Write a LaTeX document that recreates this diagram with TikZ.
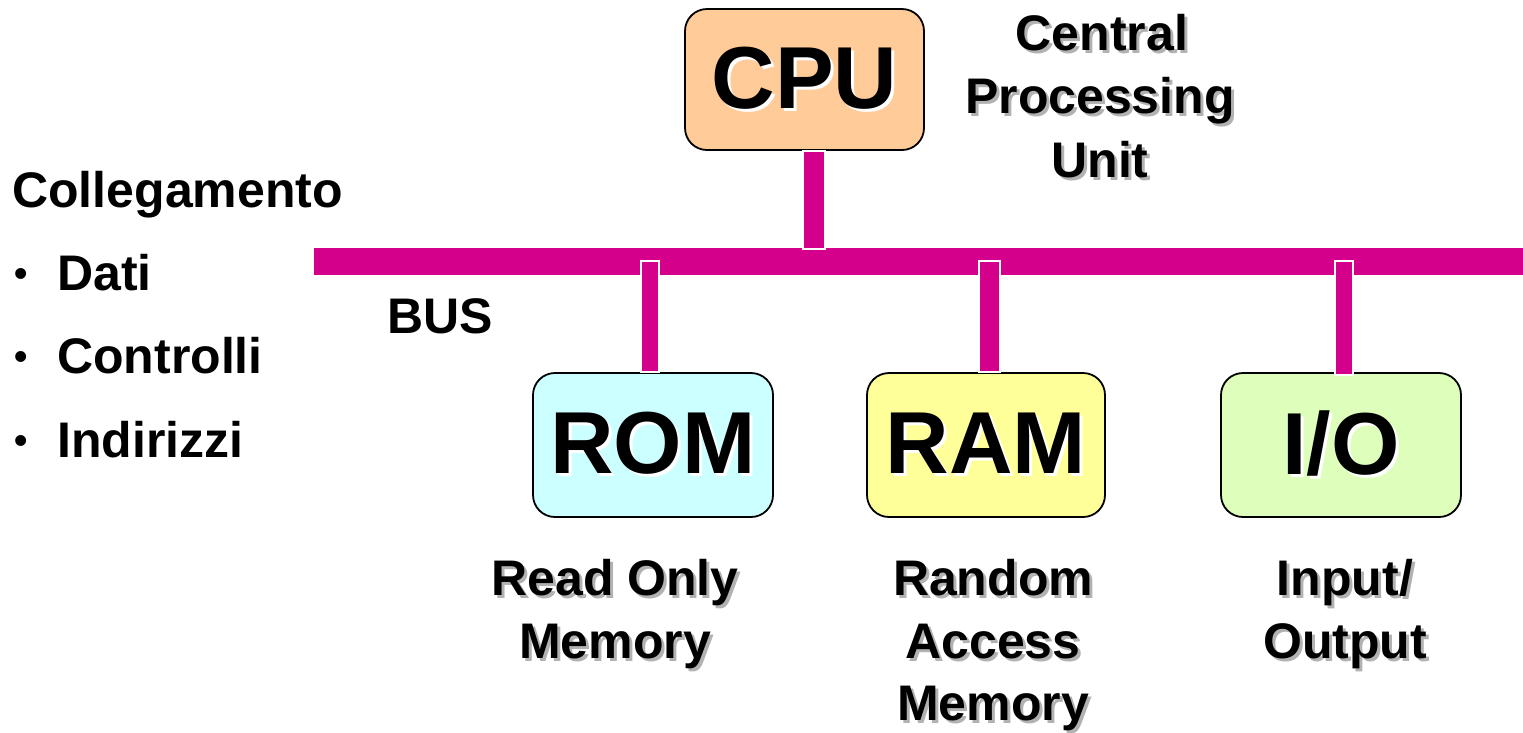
\documentclass[tikz,border=0pt]{standalone}
\usepackage{fontspec}
\setmainfont{Liberation Sans}
\usetikzlibrary{calc}
\definecolor{busmag}{RGB}{212,0,140}
\definecolor{cpufill}{RGB}{255,204,153}
\definecolor{romfill}{RGB}{204,255,255}
\definecolor{ramfill}{RGB}{255,255,153}
\definecolor{iofill}{RGB}{221,255,187}
\newcommand\shd[2]{\makebox[0pt][l]{\hspace*{3pt}\raisebox{-3pt}{\color{#1}#2}}#2}
\begin{document}
\begin{tikzpicture}[x=1pt,y=-1pt,
  unitbox/.style={draw=black,line width=1.8pt,rounded corners=22pt,inner sep=0pt,
    font=\fontsize{88}{90}\selectfont\bfseries},
  lbl/.style={inner sep=0pt,font=\fontsize{50}{60}\selectfont\bfseries},
  bul/.style={inner sep=0pt,font=\fontsize{38}{40}\selectfont\bfseries},
  stubrect/.style={fill=busmag,draw=white,line width=1.5pt}]
\useasboundingbox (0,0) rectangle (1523,732);
% bus
\node[fill=busmag,inner sep=0pt,minimum width=1209pt,minimum height=27pt] (bus) at (918.5,261.5) {};
% units
\node[unitbox,fill=cpufill,minimum width=239pt,minimum height=141pt] (cpu) at (804.5,79.5) {\shd{white}{CPU}};
\node[unitbox,fill=romfill,minimum width=240pt,minimum height=144pt] (rom) at (653,445) {\shd{white}{ROM}};
\node[unitbox,fill=ramfill,minimum width=238pt,minimum height=144pt] (ram) at (986,445) {\shd{white}{RAM}};
\node[unitbox,fill=iofill,minimum width=240pt,minimum height=144pt] (io) at (1341,445) {\shd{white}{I/O}};
% stubs
\path[stubrect] ([xshift=-1.5pt]cpu.south) rectangle ([xshift=20.5pt,yshift=-1pt]cpu.south |- bus.north);
\path[stubrect] ([xshift=-12pt]rom.north) rectangle ([xshift=6pt,yshift=-13pt]rom.north |- bus.north);
\path[stubrect] ([xshift=-7pt]ram.north) rectangle ([xshift=14pt,yshift=-13pt]ram.north |- bus.north);
\path[stubrect] ([xshift=-6pt,yshift=-3pt]io.north) rectangle ([xshift=12pt,yshift=-13pt]io.north |- bus.north);
% left list
\node[lbl,anchor=base west] (coll) at (12,207) {Collegamento};
\node[bul,anchor=base west] (b1) at (14,286) {•};
\node[lbl,anchor=base west] (dati) at (57,290) {Dati};
\node[bul,anchor=base west] (b2) at (14,369) {•};
\node[lbl,anchor=base west] (contr) at (57,373) {Controlli};
\node[bul,anchor=base west] (b3) at (14,453) {•};
\node[lbl,anchor=base west] (indir) at (57,457) {Indirizzi};
\node[lbl,anchor=base west] (buslbl) at (387,333) {BUS};
% CPU description
\node[lbl,anchor=base] (c1) at (1102,50) {\shd{black!30}{Central}};
\node[lbl,anchor=base] (c2) at (1100,113) {\shd{black!30}{Processing}};
\node[lbl,anchor=base] (c3) at (1100,177) {\shd{black!30}{Unit}};
% ROM description
\node[lbl,anchor=base] (r1) at (615,595) {\shd{black!30}{Read Only}};
\node[lbl,anchor=base] (r2) at (615,658) {\shd{black!30}{Memory}};
% RAM description
\node[lbl,anchor=base] (m1) at (993,595) {\shd{black!30}{Random}};
\node[lbl,anchor=base] (m2) at (993,658) {\shd{black!30}{Access}};
\node[lbl,anchor=base] (m3) at (993,720) {\shd{black!30}{Memory}};
% IO description
\node[lbl,anchor=base] (i1) at (1345,595) {\shd{black!30}{Input/}};
\node[lbl,anchor=base] (i2) at (1345,658) {\shd{black!30}{Output}};
\end{tikzpicture}
\end{document}
